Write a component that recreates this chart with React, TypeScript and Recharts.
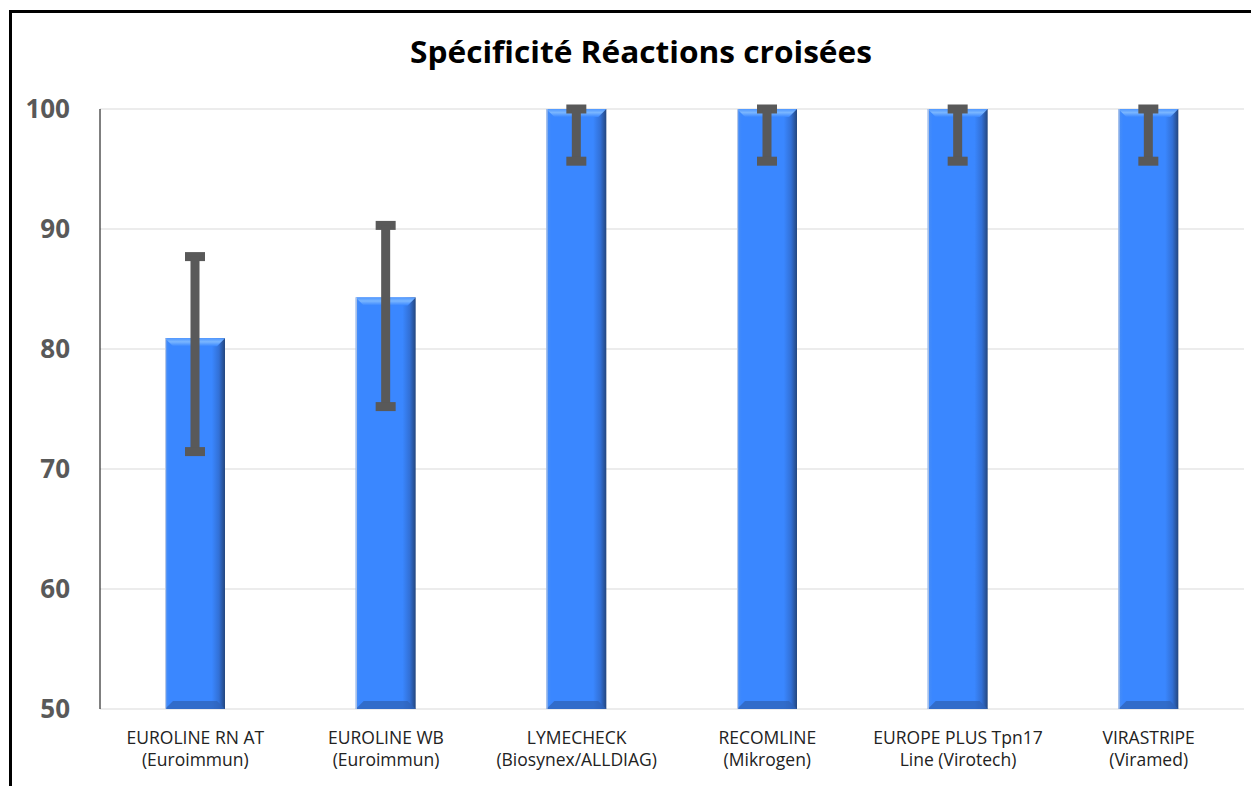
import React from "react"
import { BarChart, Bar, XAxis, YAxis, CartesianGrid, ErrorBar } from "recharts"

const categories = [
  "EUROLINE RN AT\n(Euroimmun)",
  "EUROLINE WB\n(Euroimmun)",
  "LYMECHECK\n(Biosynex/ALLDIAG)",
  "RECOMLINE\n(Mikrogen)",
  "EUROPE PLUS Tpn17\nLine (Virotech)",
  "VIRASTRIPE\n(Viramed)",
]
const specificity = [80.9, 84.3, 100, 100, 100, 100]
const errLow = [9.45, 9.1, 4.35, 4.35, 4.35, 4.35]
const errHigh = [6.8, 6.0, 0, 0, 0, 0]
const yTicks = [50, 60, 70, 80, 90, 100]

const data = categories.map((name, i) => ({
  name,
  value: specificity[i],
  err: [errLow[i], errHigh[i]],
}))

const labelFont = "'Open Sans', sans-serif"

function BarShape(props: any) {
  const { x, y, width, height } = props
  if (!height || height <= 0) return null
  const b = 8
  return (
    <g>
      <rect x={x} y={y} width={width} height={height} fill="url(#barBody)" />
      <polygon
        points={`${x},${y} ${x + width},${y} ${x + width - b},${y + b} ${x + b},${y + b}`}
        fill="url(#barTop)"
      />
      <polygon
        points={`${x + b},${y + height - b} ${x + width - b},${y + height - b} ${x + width},${y + height} ${x},${y + height}`}
        fill="#2f63b8"
        opacity={0.75}
      />
      <rect x={x} y={y} width={1.2} height={height} fill="#b7c8e6" />
    </g>
  )
}

function CategoryTick(props: any) {
  const { x, y, payload } = props
  const lines = String(payload.value).split("\n")
  return (
    <text
      x={x}
      y={y}
      textAnchor="middle"
      fill="#222"
      fontFamily={labelFont}
      fontSize={17.5}
    >
      {lines.map((l, i) => (
        <tspan key={i} x={x} y={y + 35 + i * 22}>
          {l}
        </tspan>
      ))}
    </text>
  )
}

export default function App() {
  return (
    <div
      style={{
        position: "absolute",
        left: 0,
        top: 0,
        width: 1251,
        height: 786,
        overflow: "hidden",
        background: "#fff",
      }}
    >
      <div
        style={{
          position: "absolute",
          left: 9,
          top: 10,
          width: 1300,
          height: 820,
          border: "3px solid #000",
          boxSizing: "border-box",
        }}
      />
      <svg
        width={1251}
        height={90}
        style={{ position: "absolute", left: 0, top: 0 }}
      >
        <text
          x={641}
          y={63}
          textAnchor="middle"
          fontFamily="'Open Sans', sans-serif"
          fontWeight={700}
          fontSize={30}
          fill="#000"
          textLength={462}
          lengthAdjust="spacingAndGlyphs"
        >
          Spécificité Réactions croisées
        </text>
      </svg>
      <div style={{ position: "absolute", left: 0, top: 0 }}>
        <BarChart
          width={1251}
          height={786}
          data={data}
          margin={{ top: 109, right: 7, bottom: 0, left: 0 }}
        >
          <defs>
            <linearGradient id="barBody" x1="0" y1="0" x2="1" y2="0">
              <stop offset="0%" stopColor="#4a8ff5" />
              <stop offset="8%" stopColor="#3a87ff" />
              <stop offset="78%" stopColor="#3a87ff" />
              <stop offset="90%" stopColor="#3270d6" />
              <stop offset="100%" stopColor="#24467e" />
            </linearGradient>
            <linearGradient id="barTop" x1="0" y1="0" x2="0" y2="1">
              <stop offset="0%" stopColor="#4f97ff" />
              <stop offset="45%" stopColor="#7ab6ff" />
              <stop offset="100%" stopColor="#3a87ff" />
            </linearGradient>
          </defs>
          <CartesianGrid vertical={false} stroke="#d9d9d9" strokeWidth={1} />
          <XAxis
            dataKey="name"
            axisLine={false}
            tickLine={false}
            tickSize={0}
            tickMargin={0}
            height={77}
            interval={0}
            tick={<CategoryTick />}
          />
          <YAxis
            domain={[50, 100]}
            ticks={yTicks}
            width={100}
            allowDataOverflow
            axisLine={{ stroke: "#000", strokeWidth: 1 }}
            tickLine={false}
            tickSize={0}
            tickMargin={30}
            tick={{
              fill: "#595959",
              fontSize: 26,
              fontWeight: 700,
              fontFamily: "'Open Sans', sans-serif",
            }}
          />
          <Bar
            dataKey="value"
            barSize={60}
            shape={<BarShape />}
            isAnimationActive={false}
          >
            <ErrorBar
              dataKey="err"
              direction="y"
              width={10}
              stroke="#595959"
              strokeWidth={9}
              isAnimationActive={false}
            />
          </Bar>
        </BarChart>
      </div>
    </div>
  )
}
